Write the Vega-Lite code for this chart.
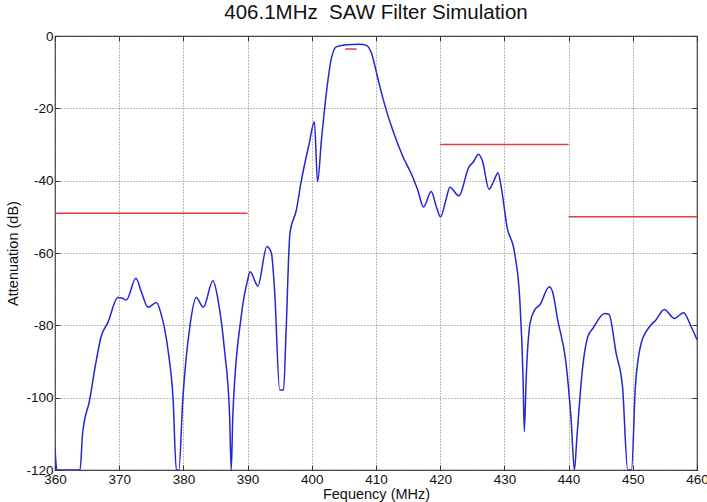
{
  "$schema": "https://vega.github.io/schema/vega-lite/v6.json",
  "width": 642,
  "height": 434,
  "autosize": {"type": "none"},
  "padding": {"left": 55, "top": 36, "right": 10, "bottom": 32},
  "background": "white",
  "title": {"text": "406.1MHz\u00a0 SAW Filter Simulation", "font": "Liberation Sans", "fontSize": 20.5, "fontWeight": "normal", "color": "#111111", "offset": 6},
  "config": {
    "view": {"stroke": "#333333", "strokeWidth": 1.2},
    "axis": {"labelFont": "Liberation Sans", "titleFont": "Liberation Sans", "labelColor": "#111111", "titleColor": "#111111", "titleFontWeight": "normal"}
  },
  "datasets": {
    "curve": [
      {"f": 360, "db": -114}, {"f": 360.3, "db": -120}, {"f": 363.9, "db": -120}, {"f": 364.3, "db": -109.8},
      {"f": 365.4, "db": -100.6}, {"f": 366.3, "db": -91}, {"f": 367.2, "db": -83}, {"f": 368.2, "db": -79.4},
      {"f": 369.8, "db": -72.3}, {"f": 370.5, "db": -72.5}, {"f": 371.1, "db": -73}, {"f": 372.6, "db": -67},
      {"f": 373.5, "db": -71}, {"f": 374.5, "db": -75}, {"f": 375.8, "db": -73.7}, {"f": 376.5, "db": -76.7},
      {"f": 377.6, "db": -86.8}, {"f": 378.4, "db": -100.6}, {"f": 378.9, "db": -120}, {"f": 379.3, "db": -120},
      {"f": 379.9, "db": -100.6}, {"f": 381, "db": -80.4}, {"f": 382, "db": -72.3}, {"f": 383.1, "db": -75},
      {"f": 384.6, "db": -67.7}, {"f": 385.4, "db": -73}, {"f": 386.4, "db": -86.8}, {"f": 387.2, "db": -105},
      {"f": 387.45, "db": -120}, {"f": 387.7, "db": -105}, {"f": 389, "db": -77.6}, {"f": 390, "db": -67.5},
      {"f": 390.4, "db": -65.2}, {"f": 391.6, "db": -69.1}, {"f": 393, "db": -58.2}, {"f": 393.7, "db": -60},
      {"f": 394.2, "db": -70.2}, {"f": 395, "db": -97.9}, {"f": 395.6, "db": -97.9}, {"f": 396, "db": -81.3},
      {"f": 396.6, "db": -54.5}, {"f": 397.6, "db": -48.1}, {"f": 398.3, "db": -40.7}, {"f": 399.6, "db": -29.7},
      {"f": 400.4, "db": -23.7}, {"f": 400.9, "db": -40.3}, {"f": 401.5, "db": -28.8}, {"f": 402.2, "db": -16.8},
      {"f": 403, "db": -6.6}, {"f": 403.8, "db": -3}, {"f": 405.4, "db": -2.4}, {"f": 407.4, "db": -2.3},
      {"f": 408.5, "db": -2.6}, {"f": 409.3, "db": -4.8}, {"f": 410.1, "db": -10.3}, {"f": 410.6, "db": -14},
      {"f": 411.6, "db": -20.5}, {"f": 412.6, "db": -26}, {"f": 414.2, "db": -33.4}, {"f": 415.7, "db": -38.9},
      {"f": 416.5, "db": -42.6}, {"f": 417.4, "db": -47.3}, {"f": 418.6, "db": -43}, {"f": 419.4, "db": -47.2},
      {"f": 420.05, "db": -50}, {"f": 420.9, "db": -45.3}, {"f": 421.5, "db": -41.8}, {"f": 422.9, "db": -44.2},
      {"f": 424.5, "db": -36.1}, {"f": 425.1, "db": -35}, {"f": 426, "db": -32.7}, {"f": 426.6, "db": -34.7},
      {"f": 427.6, "db": -42.4}, {"f": 428.3, "db": -40.3}, {"f": 429, "db": -37.8}, {"f": 429.5, "db": -41.7},
      {"f": 430.4, "db": -52.7}, {"f": 431.6, "db": -60.1}, {"f": 432.4, "db": -73}, {"f": 432.9, "db": -94.2},
      {"f": 433.1, "db": -109.4}, {"f": 433.4, "db": -94.2}, {"f": 434, "db": -79.4}, {"f": 434.7, "db": -75.8},
      {"f": 435.5, "db": -74.4}, {"f": 437, "db": -69.3}, {"f": 437.5, "db": -70.7}, {"f": 438.3, "db": -78.5},
      {"f": 439.6, "db": -90.5}, {"f": 440.4, "db": -106.2}, {"f": 440.9, "db": -120}, {"f": 441.3, "db": -110.8},
      {"f": 442.2, "db": -91.4}, {"f": 443, "db": -83.1}, {"f": 443.8, "db": -80.8}, {"f": 445.6, "db": -76.7},
      {"f": 446.3, "db": -77}, {"f": 447.4, "db": -87.7}, {"f": 448.4, "db": -97}, {"f": 449.2, "db": -120},
      {"f": 449.8, "db": -120}, {"f": 450.4, "db": -97}, {"f": 451.3, "db": -85}, {"f": 452.6, "db": -80.4},
      {"f": 453.6, "db": -78.5}, {"f": 454.9, "db": -75.6}, {"f": 456.5, "db": -78.1}, {"f": 457.9, "db": -76.5},
      {"f": 459.1, "db": -80.4}, {"f": 460, "db": -84}
    ],
    "mask": [
      {"f1": 360, "f2": 390, "db": -49},
      {"f1": 405.2, "f2": 407, "db": -3.6},
      {"f1": 420, "f2": 440, "db": -30},
      {"f1": 440, "f2": 460, "db": -50}
    ]
  },
  "layer": [
    {
      "data": {"name": "curve"},
      "mark": {"type": "line", "color": "#2525d4", "strokeWidth": 1.5, "clip": true, "interpolate": "monotone"},
      "encoding": {
        "x": {"field": "f", "type": "quantitative", "scale": {"domain": [360, 460], "nice": false, "zero": false},
          "axis": {"title": "Fequency (MHz)", "values": [360, 370, 380, 390, 400, 410, 420, 430, 440, 450, 460], "labelFontSize": 13.5, "titleFontSize": 14.5, "labelPadding": 7, "titlePadding": 2, "tickSize": -5, "tickColor": "#333333", "domain": false, "grid": true, "gridDash": [1, 2], "gridColor": "#777777", "gridWidth": 1, "labelFlush": false, "labelExpr": "'' + datum.value"}},
        "y": {"field": "db", "type": "quantitative", "scale": {"domain": [-120, 0], "nice": false, "zero": false},
          "axis": {"title": "Attenuation (dB)", "values": [-120, -100, -80, -60, -40, -20, 0], "labelFontSize": 13.5, "titleFontSize": 14.5, "labelPadding": 7, "titlePadding": 5, "tickSize": -5, "tickColor": "#333333", "domain": false, "grid": true, "gridDash": [1, 2], "gridColor": "#777777", "gridWidth": 1, "labelFlush": false, "labelExpr": "'' + datum.value"}}
      }
    },
    {
      "data": {"name": "mask"},
      "mark": {"type": "rule", "color": "#e83c3c", "strokeWidth": 1.5},
      "encoding": {
        "x": {"field": "f1", "type": "quantitative", "axis": {"orient": "top", "title": null, "labels": false, "values": [360, 370, 380, 390, 400, 410, 420, 430, 440, 450, 460], "tickSize": -5, "tickColor": "#333333", "domain": false, "grid": false}},
        "x2": {"field": "f2"},
        "y": {"field": "db", "type": "quantitative", "axis": {"orient": "right", "title": null, "labels": false, "values": [-120, -100, -80, -60, -40, -20, 0], "tickSize": -5, "tickColor": "#333333", "domain": false, "grid": false}}
      }
    }
  ],
  "resolve": {"axis": {"x": "independent", "y": "independent"}}
}
